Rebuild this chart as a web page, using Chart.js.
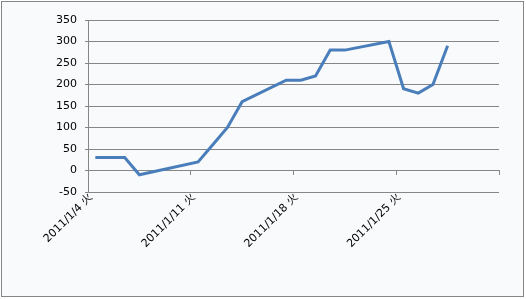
<!DOCTYPE html>
<html>
<head>
<meta charset="utf-8">
<script src="https://cdn.jsdelivr.net/npm/chart.js@4/dist/chart.umd.min.js"></script>
<style>
  html, body { margin: 0; padding: 0; background: #ffffff; }
  #box {
    position: absolute; left: 1px; top: 1px;
    width: 521px; height: 294px;
    border: 1px solid #868686;
    background: #f9fafc;
  }
  #myChart { display: block; }
</style>
</head>
<body>
<div id="box"><canvas id="myChart" width="521" height="294"></canvas></div>
<script>
const ctx = document.getElementById('myChart')

// data
const dates = ['2011/1/4', '2011/1/5', '2011/1/6', '2011/1/7', '2011/1/11', '2011/1/12', '2011/1/13', '2011/1/14',
  '2011/1/17', '2011/1/18', '2011/1/19', '2011/1/20', '2011/1/21', '2011/1/24', '2011/1/25', '2011/1/26',
  '2011/1/27', '2011/1/28'];
const values = [30, 30, 30, -10, 20, 60, 100, 160, 210, 210, 220, 280, 280, 300, 190, 180, 200, 290];
const tickDays = [4, 11, 18, 25, 32];
const tickLabels = ['2011/1/4 火', '2011/1/11 火', '2011/1/18 火', '2011/1/25 火', ''];

const lineColor = '#4a7ebb';
const gridColor = '#868686';
const font = { family: '"DejaVu Sans", "Noto Sans CJK JP", sans-serif', size: 11 };

// day of month -> x value (points sit in the middle of the day)
const points = dates.map((d, i) => ({ x: Number(d.split('/')[2]) + 0.5, y: values[i] }));

const myChart = new Chart(ctx, {
  type: 'line',
  data: {
    datasets: [{
      data: points,
      borderColor: lineColor,
      borderWidth: 3,
      pointRadius: 0,
      tension: 0,
      xAxisID: 'x',
      yAxisID: 'y'
    }]
  },
  options: {
    responsive: false,
    animation: false,
    layout: { padding: { left: 0, top: 18, right: 24, bottom: 0 } },
    plugins: { legend: { display: false }, tooltip: { enabled: false } },
    scales: {
      x: {
        type: 'linear',
        position: 'bottom',
        min: 4,
        max: 32,
        afterBuildTicks: scale => { scale.ticks = tickDays.map(v => ({ value: v })) },
        afterFit: scale => { scale.height = 104 },
        grid: { display: false },
        border: { display: false },
        ticks: {
          autoSkip: false,
          minRotation: 45,
          maxRotation: 45,
          padding: -9,
          labelOffset: 3,
          color: '#000',
          font: font,
          callback: (v, i) => tickLabels[i]
        }
      },
      x0: {
        type: 'linear',
        axis: 'x',
        position: { y: 0 },
        min: 4,
        max: 32,
        afterBuildTicks: scale => { scale.ticks = tickDays.map(v => ({ value: v })) },
        grid: { drawOnChartArea: false, drawTicks: true, tickLength: 4, color: gridColor },
        border: { color: gridColor, width: 1 },
        ticks: { display: false }
      },
      y: {
        min: -50,
        max: 350,
        afterFit: scale => { scale.width = 86 },
        grid: { color: gridColor, tickLength: 3, lineWidth: 1 },
        border: { color: gridColor, width: 1 },
        ticks: { stepSize: 50, padding: 8, color: '#000', font: font }
      }
    }
  }
});
</script>
</body>
</html>
